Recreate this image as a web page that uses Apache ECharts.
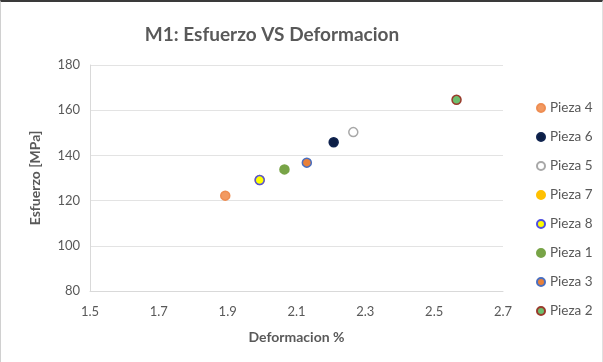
<!DOCTYPE html>
<html>
<head>
<meta charset="utf-8">
<script src="https://cdn.jsdelivr.net/npm/echarts@6/dist/echarts.min.js"></script>
<style>
  html, body { margin: 0; padding: 0; background: #fff; }
  #frame { position: relative; width: 603px; height: 362px; box-sizing: border-box;
           border-top: 2px solid #3a3a3a; border-left: 1px solid #d0d0d0; border-right: 1px solid #e0e0e0; }
  #chart { position: absolute; left: 0; top: -2px; width: 603px; height: 362px; }
</style>
</head>
<body>
<div id="frame"><div id="chart"></div></div>
<script>
// Specimen names, in legend order
const piezas = ['Pieza 4', 'Pieza 6', 'Pieza 5', 'Pieza 7', 'Pieza 8', 'Pieza 1', 'Pieza 3', 'Pieza 2'];
// Strain at failure [%]
const deformacion = [1.893, 2.208, 2.265, 1.993, 1.993, 2.065, 2.130, 2.565];
// Stress [MPa]
const esfuerzo = [122.2, 145.8, 150.3, 129.1, 129.1, 133.8, 136.8, 164.6];

// Marker fill / border per specimen
const fills = ['#F29A62', '#0C1E45', '#FFFFFF', '#FFC000', '#FFFF00', '#78A447', '#E8813A', '#6DBE6E'];
const borders = ['#EE8D52', '#10244F', '#A8A8A8', '#FFC000', '#5050E0', '#78A447', '#4A6FC0', '#9A3A2C'];

const font = 'Lato, "Open Sans", sans-serif';
const grey = '#595959';

const series = piezas.map((name, i) => ({
  name: name,
  type: 'scatter',
  symbol: 'circle',
  symbolSize: 9,
  data: [[deformacion[i], esfuerzo[i]]],
  itemStyle: { color: fills[i], borderColor: borders[i], borderWidth: 1.5, opacity: 1 }
}));

const chart = echarts.init(document.getElementById('chart'), null, { renderer: 'canvas' });
chart.setOption({
  animation: false,
  backgroundColor: 'transparent',
  title: {
    text: 'M1: Esfuerzo VS Deformacion',
    left: 266, top: 20, textAlign: 'center',
    textStyle: { fontFamily: font, fontWeight: 'bold', fontSize: 19, color: grey }
  },
  grid: { left: 89, right: 101, top: 65, bottom: 71 },
  legend: {
    orient: 'vertical',
    left: 530, top: 96,
    itemWidth: 8, itemHeight: 14, itemGap: 15,
    icon: 'circle',
    textStyle: { fontFamily: font, fontSize: 13.5, color: grey },
    data: piezas
  },
  xAxis: {
    type: 'value', min: 1.5, max: 2.7, interval: 0.2,
    name: 'Deformacion %', nameLocation: 'middle', nameGap: 39,
    nameTextStyle: { fontFamily: font, fontWeight: 'bold', fontSize: 14, color: grey },
    axisLine: { show: true, lineStyle: { color: '#d9d9d9' } },
    axisTick: { show: false },
    splitLine: { show: false },
    axisLabel: { fontFamily: font, fontSize: 13, color: grey, margin: 14,
                 formatter: v => v.toFixed(1) }
  },
  yAxis: {
    type: 'value', min: 80, max: 180, interval: 20,
    name: 'Esfuerzo [MPa]', nameLocation: 'middle', nameGap: 48, nameRotate: 90,
    nameTextStyle: { fontFamily: font, fontWeight: 'bold', fontSize: 14, color: grey },
    axisLine: { show: true, lineStyle: { color: '#d9d9d9' } },
    axisTick: { show: false },
    splitLine: { show: true, lineStyle: { color: '#e3e3e3' } },
    axisLabel: { fontFamily: font, fontSize: 13, color: grey, margin: 10 }
  },
  series: series
});
</script>
</body>
</html>
